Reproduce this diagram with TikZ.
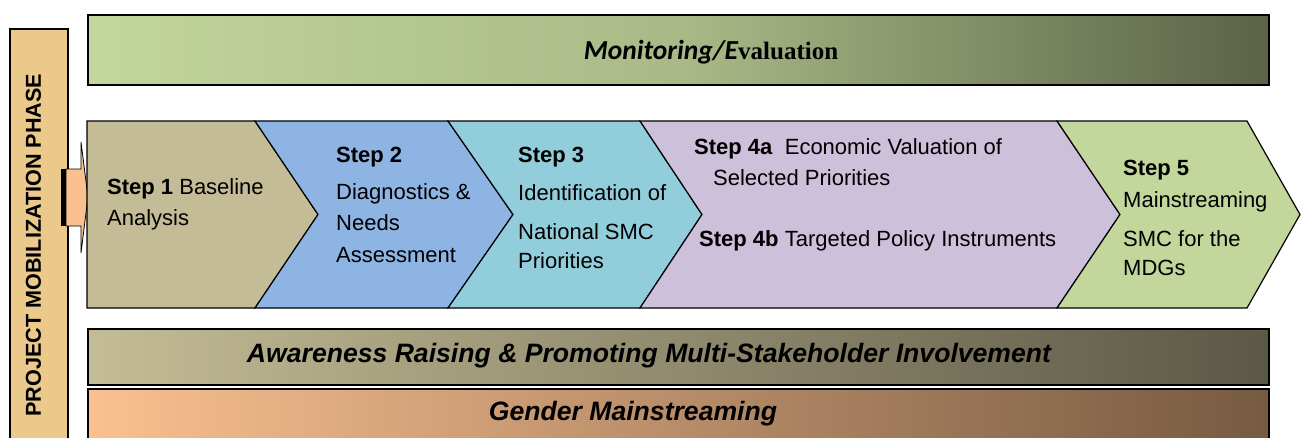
\documentclass[tikz,border=0pt]{standalone}
\usepackage{fontspec}
\setmainfont{Liberation Sans}
\newfontfamily\carl{Carlito}
\newfontfamily\libserif{Liberation Serif}
\definecolor{barL}{HTML}{EBC98A}
\definecolor{monL}{HTML}{C3D69B}
\definecolor{monM}{HTML}{A9BA87}
\definecolor{monR}{HTML}{5A6347}
\definecolor{awL}{HTML}{C4BC96}
\definecolor{awR}{HTML}{5C5846}
\definecolor{geL}{HTML}{FAC090}
\definecolor{geR}{HTML}{765A42}
\definecolor{sA}{HTML}{C4BC96}
\definecolor{sB}{HTML}{8EB4E3}
\definecolor{sC}{HTML}{92CDDC}
\definecolor{sD}{HTML}{CCC0DA}
\definecolor{sE}{HTML}{C3D69B}
\definecolor{arrowfill}{HTML}{FAC090}
\tikzset{
  bandbar/.style={draw=black, line width=2pt},
  chev/.style={draw=black, line width=1.2pt, line join=miter},
  steptext/.style={anchor=base west, inner sep=0pt, font=\fontsize{22}{26}\selectfont},
  bandtext/.style={anchor=base, inner sep=0pt, font=\fontsize{26.6}{30}\selectfont\bfseries\itshape},
}
\begin{document}
\begin{tikzpicture}[x=1pt,y=-1pt]
\useasboundingbox (0,0) rectangle (1301,437);
\fill[white] (0,0) rectangle (1301,437);

% left vertical bar
\path[draw=black, line width=1.5pt, fill=barL] (10,29) rectangle (68,450);
\node[rotate=90, inner sep=0pt, font=\fontsize{21.6}{24}\selectfont\bfseries] (phase) at (33.5,245) {PROJECT MOBILIZATION PHASE};

% monitoring bar
\path[bandbar, left color=monL, right color=monR, middle color=monM] (88,15) rectangle (1269,85);
\node[anchor=base, inner sep=0pt] (mon) at (711,59) {{\carl\fontsize{27.5}{30}\selectfont\bfseries\itshape Monitoring/E}{\libserif\fontsize{25}{28}\selectfont\bfseries valuation}};

% entry arrow
\fill[black] (61,169) rectangle (67,226);
\draw[fill=arrowfill, line width=0.8pt, line join=miter] (66,169) -- (81,169) -- (81,142) -- (88,197) -- (81,253) -- (81,226) -- (66,226) -- cycle;

% chevrons
\def\T{121}\def\B{308}\def\M{214.5}
\path[chev, fill=sA] (87,\T) -- (255,\T) -- (318,\M) -- (255,\B) -- (87,\B) -- cycle;
\path[chev, fill=sB] (255,\T) -- (448,\T) -- (513,\M) -- (448,\B) -- (255,\B) -- (318,\M) -- cycle;
\path[chev, fill=sC] (448,\T) -- (640,\T) -- (702,\M) -- (640,\B) -- (448,\B) -- (513,\M) -- cycle;
\path[chev, fill=sD] (640,\T) -- (1057,\T) -- (1120,\M) -- (1057,\B) -- (640,\B) -- (702,\M) -- cycle;
\path[chev, fill=sE] (1057,\T) -- (1247,\T) -- (1300,\M) -- (1247,\B) -- (1057,\B) -- (1120,\M) -- cycle;

% step texts
\node[steptext] (s1a) at (107,194) {\textbf{Step 1} Baseline};
\node[steptext] (s1b) at (107,225) {Analysis};

\node[steptext] (s2a) at (336,162) {\textbf{Step 2}};
\node[steptext] (s2b) at (336,199) {Diagnostics \&};
\node[steptext] (s2c) at (336,230) {Needs};
\node[steptext] (s2d) at (336,262) {Assessment};

\node[steptext] (s3a) at (518,162) {\textbf{Step 3}};
\node[steptext] (s3b) at (518,200) {Identification of};
\node[steptext] (s3c) at (518,239) {National SMC};
\node[steptext] (s3d) at (518,268) {Priorities};

\node[steptext] (s4a) at (694,154) {\textbf{Step 4a}\ \ Economic Valuation of};
\node[steptext] (s4b) at (713,185) {Selected Priorities};
\node[steptext] (s4c) at (699,246) {\textbf{Step 4b} Targeted Policy Instruments};

\node[steptext] (s5a) at (1123,175) {\textbf{Step 5}};
\node[steptext] (s5b) at (1123,207) {Mainstreaming};
\node[steptext] (s5c) at (1123,246) {SMC for the};
\node[steptext] (s5d) at (1123,275) {MDGs};

% awareness bar
\path[bandbar, left color=awL, right color=awR] (88,329) rectangle (1269,385);
\node[bandtext] (aw) at (649,362) {Awareness Raising \& Promoting Multi-Stakeholder Involvement};

% gender bar
\path[bandbar, left color=geL, right color=geR] (88,389) rectangle (1269,450);
\node[bandtext] (ge) at (633,420) {Gender Mainstreaming};
\end{tikzpicture}
\end{document}
